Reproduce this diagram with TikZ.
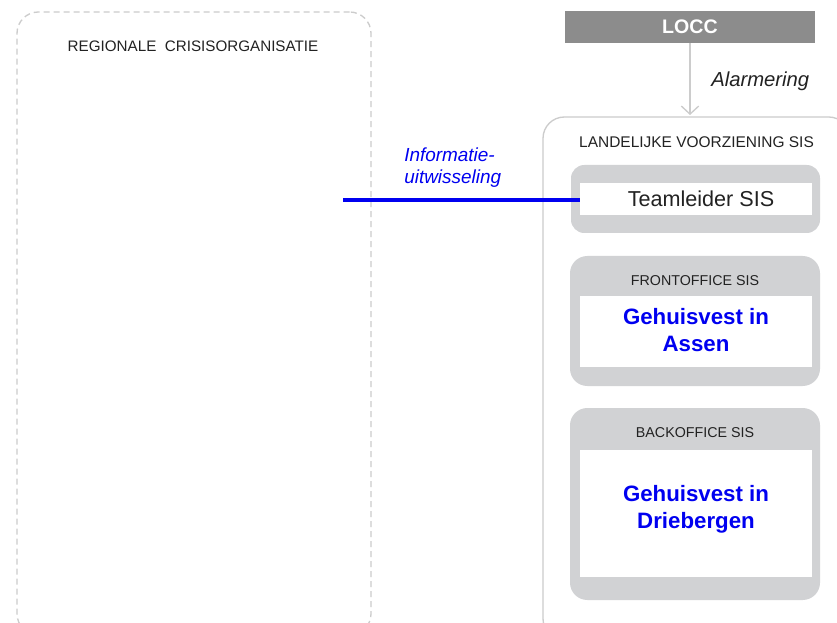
\documentclass[tikz,border=0pt]{standalone}
\usepackage{fontspec}
\setmainfont{Liberation Sans}
\usetikzlibrary{arrows.meta}
\definecolor{grpgray}{HTML}{D1D2D4}
\definecolor{loccgray}{HTML}{8C8C8C}
\definecolor{linegray}{HTML}{CCCCCC}
\definecolor{txtdark}{HTML}{222222}
\definecolor{infoblue}{HTML}{0000F0}
\tikzset{
  frame/.style={draw=linegray, line width=1pt, rounded corners=16pt, inner sep=0pt},
  grp/.style={fill=grpgray, draw=none, rounded corners=13pt, inner sep=0pt},
  inbox/.style={fill=white, draw=none, inner sep=0pt},
  caplbl/.style={anchor=base, inner sep=0pt, text=txtdark},
  bigblue/.style={text=infoblue, font=\fontsize{16.7}{20.3}\selectfont\bfseries, align=center, inner sep=0pt},
}
\begin{document}
\begin{tikzpicture}[x=0.75pt,y=-0.75pt]
\useasboundingbox (0,0) rectangle (837,623);
\clip (0,0) rectangle (837,623);
\fill[white] (0,0) rectangle (837,623);
% left dashed frame
\node[frame, dash pattern=on 4.5pt off 3pt, minimum width=265.5pt, minimum height=467.25pt] (reg) at (194,323.5) {};
\node[caplbl, font=\fontsize{11.4}{13}\selectfont] (regl) at (193,51.5) {REGIONALE\ \ CRISISORGANISATIE};
% right frame
\node[frame, minimum width=230.25pt, minimum height=392.25pt] (land) at (696.5,378.5) {};
\node[caplbl, font=\fontsize{11.6}{13}\selectfont] (landl) at (696.5,148) {LANDELIJKE\ VOORZIENING\ SIS};
% LOCC
\node[fill=loccgray, minimum width=187.5pt, minimum height=24pt, inner sep=0pt] (locc) at (690,27) {};
\node[caplbl, text=white, font=\fontsize{14.7}{16}\selectfont\bfseries] (loccl) at (690,34) {LOCC};
\coordinate (arrEnd) at (690,115);
\draw[draw=linegray, line width=1pt, -{Straight Barb[length=6pt,width=13pt,line width=1pt]}] (locc.south) -- (arrEnd);
\node[anchor=base west, inner sep=0pt, text=txtdark, font=\fontsize{15.2}{17}\selectfont\itshape] (alarm) at (711,87) {Alarmering};
% Teamleider
\node[grp, minimum width=186.75pt, minimum height=51pt, rounded corners=10pt] (teamg) at (695.5,199) {};
\node[inbox, minimum width=174pt, minimum height=24pt] (team) at (696,199) {};
\node[caplbl, font=\fontsize{16.2}{18}\selectfont] (teaml) at (701,206.7) {Teamleider SIS};
% Frontoffice
\node[grp, minimum width=187.5pt, minimum height=97.5pt] (frontg) at (695,321) {};
\node[caplbl, font=\fontsize{10.7}{12}\selectfont] (frontl) at (695,285.7) {FRONTOFFICE SIS};
\node[inbox, minimum width=174pt, minimum height=53.25pt] (front) at (696,331.5) {};
\node[bigblue] (frontt) at (696,330) {Gehuisvest in\\Assen};
% Backoffice
\node[grp, minimum width=187.5pt, minimum height=144pt] (backg) at (695,504) {};
\node[caplbl, font=\fontsize{10.7}{12}\selectfont] (backl) at (695,437.7) {BACKOFFICE SIS};
\node[inbox, minimum width=174pt, minimum height=95.25pt] (back) at (696,513.5) {};
\node[bigblue] (backt) at (696,509) {Gehuisvest in\\Driebergen};
% information exchange
\coordinate (infoStart) at (343,200);
\draw[draw=infoblue, line width=2.3pt] (infoStart) -- (infoStart -| team.west);
\node[anchor=base west, inner sep=0pt, align=left, text=infoblue, font=\fontsize{14.2}{16.2}\selectfont\itshape] (info) at (404,183.5) {Informatie-\\uitwisseling};
\end{tikzpicture}
\end{document}
